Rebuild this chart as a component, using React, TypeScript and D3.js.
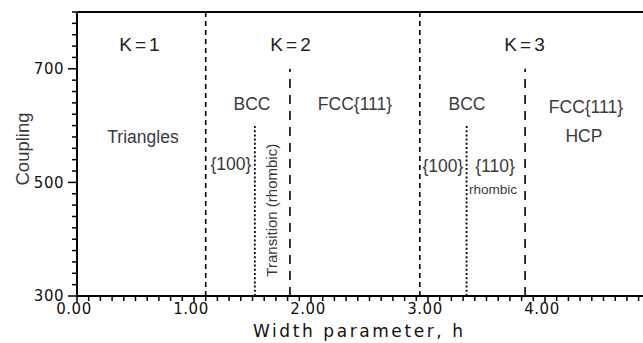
import React from "react";
import * as d3 from "d3";

// Phase boundaries
const boundaryH = [1.1, 1.52, 1.82, 2.93, 3.33, 3.83];
const boundaryTop = [800, 600, 700, 800, 600, 700];
const boundaryStyle = ["dash", "dot", "longdash", "dash", "dot", "longdash"];

// Region labels
const labelText = ["K=1", "K=2", "K=3", "Triangles", "BCC", "FCC{111}", "{100}", "Transition (rhombic)", "BCC", "FCC{111}", "HCP", "{100}", "{110}", "rhombic"];
const labelH = [0.547, 1.838, 3.838, 0.564, 1.496, 2.376, 1.316, 1.667, 3.333, 4.35, 4.333, 3.128, 3.573, 3.556];
const labelC = [744, 744, 744, 581, 639, 639, 533, 451, 639, 634, 583, 530, 530, 489];
const labelKind = ["k", "k", "k", "n", "n", "n", "n", "r", "n", "n", "n", "n", "n", "s"];

const xTickValues = [0, 1, 2, 3, 4];
const yTickValues = [300, 500, 700];

const W = 643;
const H = 343;
const M = { left: 77, top: 12, bottom: 296 };

export default function App() {
  const x = d3.scaleLinear().domain([0, 5]).range([M.left, M.left + 585]);
  const y = d3.scaleLinear().domain([300, 800]).range([M.bottom, M.top]);
  const xMinor = d3.range(0, 50).map((i) => i / 10);
  const yMinor = d3.range(300, 801, 20);
  const dashMap: Record<string, string> = { dash: "5,4", dot: "2,2.2", longdash: "9,7" };
  const gray = "#3a3a3a";
  const tickFont = "'DejaVu Sans', sans-serif";
  const labFont = "'Liberation Sans', Arial, sans-serif";

  return (
    <svg width={W} height={H} style={{ position: "absolute", left: 0, top: 0, background: "#fff" }}>
      <rect x={0} y={0} width={W} height={H} fill="#fff" />
      {/* boundaries */}
      {boundaryH.map((h, i) => (
        <line
          key={"b" + i}
          x1={x(h)}
          x2={x(h)}
          y1={y(300)}
          y2={y(boundaryTop[i])}
          stroke="#000"
          strokeWidth={boundaryStyle[i] === "dot" ? 1.8 : 1.6}
          strokeDasharray={dashMap[boundaryStyle[i]]}
        />
      ))}
      {/* axes frame */}
      <line x1={M.left} x2={W} y1={M.top} y2={M.top} stroke="#000" strokeWidth={2} />
      <line x1={M.left} x2={M.left} y1={M.top} y2={M.bottom} stroke="#000" strokeWidth={2} />
      <line x1={M.left} x2={W} y1={M.bottom} y2={M.bottom} stroke="#000" strokeWidth={2} />
      {/* y ticks */}
      {yMinor.map((v) => (
        <line key={"ym" + v} x1={M.left} x2={M.left - (yTickValues.includes(v) ? 9 : 5)} y1={y(v)} y2={y(v)} stroke="#000" strokeWidth={1.5} />
      ))}
      {yTickValues.map((v) => (
        <text key={"yl" + v} x={M.left - 13} y={y(v)} dy="0.36em" textAnchor="end" fontFamily={tickFont} fontSize={15} letterSpacing={0.5} fill="#111">
          {v}
        </text>
      ))}
      {/* x ticks */}
      {xMinor.map((v, i) => (
        <line key={"xm" + i} x1={x(v)} x2={x(v)} y1={M.bottom} y2={M.bottom + (i % 10 === 0 ? 7 : 5)} stroke="#000" strokeWidth={1.5} />
      ))}
      {xTickValues.map((v) => (
        <text key={"xl" + v} x={x(v) - 3} y={M.bottom + 18} textAnchor="middle" fontFamily={tickFont} fontSize={15} letterSpacing={0.5} fill="#111">
          {v.toFixed(2)}
        </text>
      ))}
      {/* axis titles */}
      <text x={358} y={337} textAnchor="middle" fontFamily={tickFont} fontSize={17} fill="#111" textLength={210} lengthAdjust="spacing">
        Width parameter, h
      </text>
      <text transform={`translate(29,149) rotate(-90)`} textAnchor="middle" fontFamily={labFont} fontSize={18.5} fill={gray}>
        Coupling
      </text>
      {/* region labels */}
      {labelText.map((t, i) => {
        const k = labelKind[i];
        const px = x(labelH[i]);
        const py = y(labelC[i]);
        if (k === "r") {
          return (
            <text key={"l" + i} transform={`translate(${px},${py}) rotate(-90)`} dy="0.36em" textAnchor="middle" fontFamily={labFont} fontSize={15} fill={gray}>
              {t}
            </text>
          );
        }
        const size = k === "k" ? 19 : k === "s" ? 13.5 : 17.5;
        return (
          <text
            key={"l" + i}
            x={px}
            y={py}
            dy="0.36em"
            textAnchor="middle"
            fontFamily={labFont}
            fontSize={size}
            fill={k === "k" ? "#222" : gray}
            letterSpacing={k === "k" ? 3 : 0}
          >
            {t}
          </text>
        );
      })}
    </svg>
  );
}
